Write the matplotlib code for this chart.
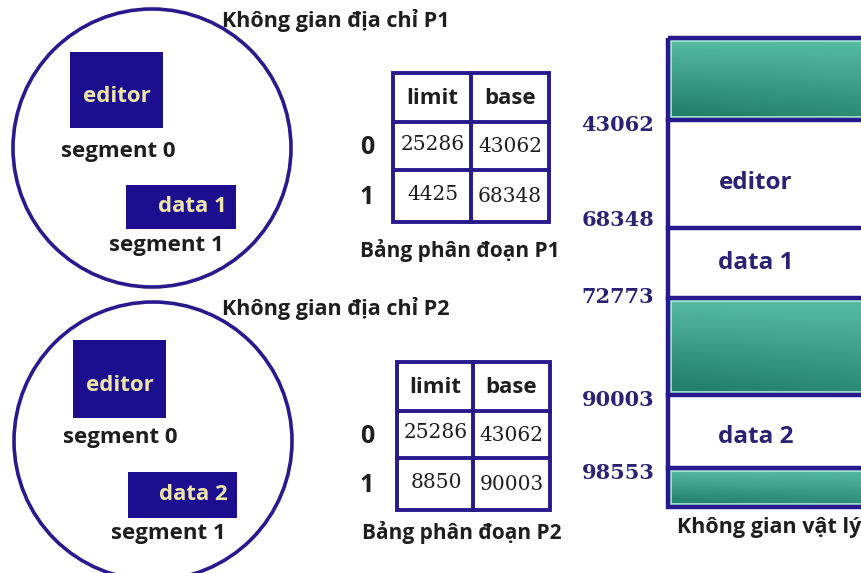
import numpy as np
import matplotlib
matplotlib.use("Agg")
import matplotlib.pyplot as plt
from matplotlib.patches import Circle, Rectangle

# ---------------- data ----------------
proc_titles = ["Không gian địa chỉ P1", "Không gian địa chỉ P2"]
seg_names_p1 = ["editor", "data 1"]
seg_names_p2 = ["editor", "data 2"]
seg_labels = ["segment 0", "segment 1"]
table_header = ["limit", "base"]
limits_p1 = [25286, 4425]
bases_p1 = [43062, 68348]
limits_p2 = [25286, 8850]
bases_p2 = [43062, 90003]
table_captions = ["Bảng phân đoạn P1", "Bảng phân đoạn P2"]
mem_addresses = [43062, 68348, 72773, 90003, 98553]
mem_block_names = ["", "editor", "data 1", "", "data 2", ""]
mem_block_free = [True, False, False, True, False, True]
mem_caption = "Không gian vật lý"

# ---------------- style ----------------
NAVY = "#28198c"
BOXFILL = "#1c0e8e"
BOXTEXT = "#efe5a8"
NUMCOL = "#2a2272"
TXT = "#1e1e1e"
plt.rcParams['font.family'] = ['Open Sans', 'DejaVu Sans']

fig = plt.figure(figsize=(8.62, 5.73), dpi=100)
ax = fig.add_axes([0, 0, 1, 1])
ax.set_xlim(0, 862)
ax.set_ylim(573, 0)
ax.axis('off')
fig.patch.set_facecolor('white')

FS = 16

# ---------------- address spaces (circles) ----------------
circles = [dict(c=(152, 148), r=139, title=(222, 20),
                ed=(70, 52, 93, 76), dt=(126, 185, 110, 44),
                s0=(118, 152), s1=(166, 245), names=seg_names_p1),
           dict(c=(153, 441), r=139, title=(222, 308),
                ed=(73, 340, 93, 78), dt=(128, 472, 109, 46),
                s0=(120, 438), s1=(168, 534), names=seg_names_p2)]

for i, cd in enumerate(circles):
    ax.add_patch(Circle(cd['c'], cd['r'], fill=False, ec=NAVY, lw=2.6, zorder=2))
    ax.text(cd['title'][0], cd['title'][1], proc_titles[i], fontsize=15.5,
            fontweight='bold', color=TXT, ha='left', va='center', zorder=5)
    x, y, w, h = cd['ed']
    ax.add_patch(Rectangle((x, y), w, h, fc=BOXFILL, ec='none', zorder=3))
    ax.text(x + w / 2, y + h * 0.58, cd['names'][0], fontsize=FS, fontweight='bold',
            color=BOXTEXT, ha='center', va='center', zorder=4)
    x, y, w, h = cd['dt']
    ax.add_patch(Rectangle((x, y), w, h, fc=BOXFILL, ec='none', zorder=3))
    ax.text(x + w * 0.6, y + h / 2, cd['names'][1], fontsize=FS, fontweight='bold',
            color=BOXTEXT, ha='center', va='center', zorder=4)
    ax.text(cd['s0'][0], cd['s0'][1], seg_labels[0], fontsize=FS, fontweight='bold',
            color=TXT, ha='center', va='center')
    ax.text(cd['s1'][0], cd['s1'][1], seg_labels[1], fontsize=FS, fontweight='bold',
            color=TXT, ha='center', va='center')

# ---------------- segment tables ----------------
tables = [dict(x0=393, x1=549, xm=471, ys=[73, 122, 170, 222], cap=(460, 250),
               lim=limits_p1, base=bases_p1),
          dict(x0=397, x1=550, xm=473, ys=[362, 411, 458, 510], cap=(462, 532),
               lim=limits_p2, base=bases_p2)]

for i, t in enumerate(tables):
    x0, x1, xm, ys = t['x0'], t['x1'], t['xm'], t['ys']
    ax.add_patch(Rectangle((x0, ys[0]), x1 - x0, ys[-1] - ys[0], fc='white',
                           ec=NAVY, lw=2.8, zorder=2))
    ax.plot([xm, xm], [ys[0], ys[-1]], color=NAVY, lw=2.8, zorder=3)
    for yy in ys[1:-1]:
        ax.plot([x0, x1], [yy, yy], color=NAVY, lw=2.8, zorder=3)
    cx = [(x0 + xm) / 2, (xm + x1) / 2]
    for j, h in enumerate(table_header):
        ax.text(cx[j], (ys[0] + ys[1]) / 2 + 1, h, fontsize=FS, fontweight='bold',
                color=TXT, ha='center', va='center', zorder=4)
    for r in range(2):
        yc = (ys[r + 1] + ys[r + 2]) / 2
        ax.text(cx[0] + 1, yc - 2, str(t['lim'][r]), fontsize=14.5, color=TXT,
                family=['DejaVu Serif'], ha='center', va='center', zorder=4)
        ax.text(cx[1], yc + 1, str(t['base'][r]), fontsize=14.5, color=TXT,
                family=['DejaVu Serif'], ha='center', va='center', zorder=4)
        ax.text(367, yc + 2, str(r), fontsize=18, fontweight='bold', color=TXT,
                ha='center', va='center')
    ax.text(t['cap'][0], t['cap'][1], table_captions[i], fontsize=15,
            fontweight='bold', color=TXT, ha='center', va='center')

# ---------------- physical memory ----------------
mem_x0, mem_x1 = 668, 900
bounds = [38, 120, 228, 298, 395, 468, 507]
addr_label_y = [125, 220, 297, 400, 473]
block_label_y = [0, 183, 263, 0, 437, 0]

# gradient for free blocks
gy, gx = np.mgrid[0:1:60j, 0:1:200j]
top = np.array([0x58, 0xbd, 0xa2]) / 255
bot = np.array([0x22, 0x80, 0x68]) / 255
tt = np.clip(gy * 0.8 + (1 - gx) * 0.3 * gy, 0, 1)[..., None]
grad = top * (1 - tt) + bot * tt

for k in range(len(mem_block_names)):
    y0, y1 = bounds[k], bounds[k + 1]
    if mem_block_free[k]:
        ax.imshow(grad, extent=(mem_x0, mem_x1, y1, y0), aspect='auto',
                  zorder=1, interpolation='bilinear')
        ax.plot([mem_x0 + 3, mem_x1], [y0 + 3, y0 + 3], color='#a8e4d6', lw=1.3, zorder=2)
        ax.plot([mem_x0 + 3, mem_x0 + 3], [y0 + 3, y1 - 3], color='#a8e4d6', lw=1.3, zorder=2)
        ax.plot([mem_x0 + 3, mem_x1], [y1 - 3, y1 - 3], color='#a8e4d6', lw=1.3, zorder=2)
    else:
        ax.text(756, block_label_y[k], mem_block_names[k], fontsize=17.5,
                fontweight='bold', color=NUMCOL, ha='center', va='center', zorder=4)

ax.add_patch(Rectangle((mem_x0, bounds[0]), mem_x1 - mem_x0, bounds[-1] - bounds[0],
                       fill=False, ec=NAVY, lw=3.2, zorder=3))
for yy in bounds[1:-1]:
    ax.plot([mem_x0, mem_x1], [yy, yy], color=NAVY, lw=3.2, zorder=3)

for a, yl in zip(mem_addresses, addr_label_y):
    ax.text(618, yl, str(a), fontsize=15, fontweight='bold', color=NUMCOL,
            family=['DejaVu Serif'], ha='center', va='center')

ax.text(769, 528, mem_caption, fontsize=15.5, fontweight='bold', color=TXT,
        ha='center', va='center')

fig.savefig("out.png", dpi=100)
